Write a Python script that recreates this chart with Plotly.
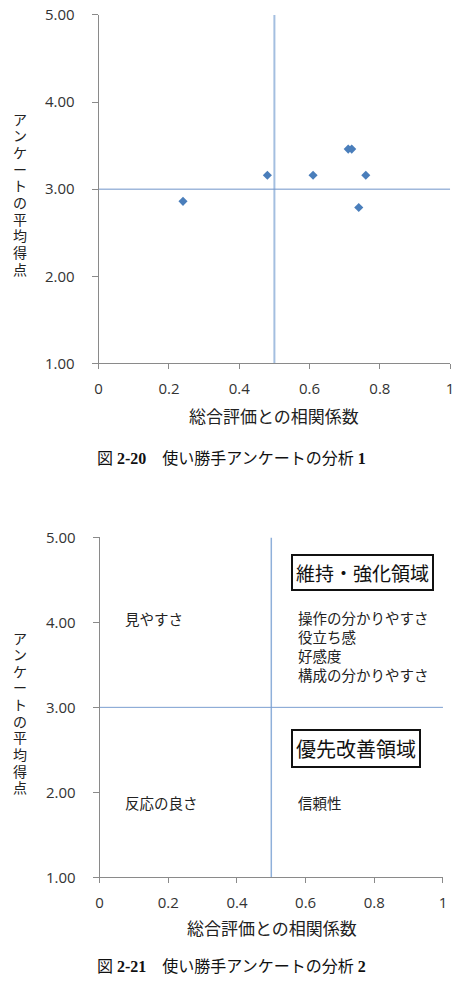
import plotly.graph_objects as go

# ---- data ----
corr = [0.24, 0.48, 0.61, 0.71, 0.72, 0.76, 0.74]
score = [2.86, 3.16, 3.16, 3.46, 3.46, 3.16, 2.79]
threshold_x = 0.5
threshold_y = 3.0
x_ticks = [0, 0.2, 0.4, 0.6, 0.8, 1]
x_tick_text = ["0", "0.2", "0.4", "0.6", "0.8", "1"]
y_ticks = [1, 2, 3, 4, 5]
y_tick_text = ["1.00", "2.00", "3.00", "4.00", "5.00"]
x_title = "総合評価との相関係数"
y_title = "アンケートの平均得点"
caption1 = "図 <b>2-20</b>　使い勝手アンケートの分析 <b>1</b>"
caption2 = "図 <b>2-21</b>　使い勝手アンケートの分析 <b>2</b>"
zone_keep = "維持・強化領域"
zone_improve = "優先改善領域"
q_upper_left = ["見やすさ"]
q_upper_right = ["操作の分かりやすさ", "役立ち感", "好感度", "構成の分かりやすさ"]
q_lower_left = ["反応の良さ"]
q_lower_right = ["信頼性"]

W, H = 463, 984
def px_x(p):
    return p / W
def px_y(p):
    return (H - p) / H

tick_font = dict(family="Open Sans, Noto Sans CJK JP", size=15, color="#333333")
jp = "Noto Sans CJK JP"
axis_gray = "#8a8a8a"

fig = go.Figure()
fig.add_trace(go.Scatter(
    x=corr, y=score, mode="markers", xaxis="x", yaxis="y",
    marker=dict(symbol="diamond", size=7, color="#4a7ebb", line=dict(width=0)),
    showlegend=False, hoverinfo="skip"))
fig.add_trace(go.Scatter(x=[None], y=[None], xaxis="x2", yaxis="y2",
                         mode="markers", showlegend=False))

def xaxis(domain, anchor):
    return dict(domain=domain, anchor=anchor, range=[0, 1], tickvals=x_ticks,
                ticktext=x_tick_text, showgrid=False, zeroline=False,
                showline=True, linecolor=axis_gray, linewidth=1,
                ticks="outside", ticklen=5, tickcolor=axis_gray,
                tickfont=tick_font, ticklabelstandoff=7, fixedrange=True)

def yaxis(domain, anchor):
    return dict(domain=domain, anchor=anchor, range=[1, 5], tickvals=y_ticks,
                ticktext=y_tick_text, showgrid=False, zeroline=False,
                showline=True, linecolor=axis_gray, linewidth=1,
                ticks="outside", ticklen=6, tickcolor=axis_gray,
                tickfont=tick_font, ticklabelstandoff=14, fixedrange=True)

fig.update_layout(
    width=W, height=H, autosize=False,
    margin=dict(l=0, r=0, t=0, b=0),
    paper_bgcolor="white", plot_bgcolor="white",
    xaxis=xaxis([px_x(96.3), px_x(454)], "y"),
    yaxis=yaxis([px_y(359.7), px_y(4)], "x"),
    xaxis2=xaxis([px_x(97.3), px_x(446.7)], "y2"),
    yaxis2=yaxis([px_y(884.3), px_y(537.3)], "x2"),
)

for xr, yr, vcol, hcol, vw in [("x", "y", "#a4bfe0", "#6f93c9", 2),
                               ("x2", "y2", "#8fb0da", "#7b9fd0", 1.5)]:
    fig.add_shape(type="line", xref=xr, yref=yr, x0=threshold_x, x1=threshold_x,
                  y0=1, y1=5, line=dict(color=vcol, width=vw), layer="below")
    fig.add_shape(type="line", xref=xr, yref=yr, x0=0, x1=1,
                  y0=threshold_y, y1=threshold_y, line=dict(color=hcol, width=1),
                  layer="below")

ann = []
for cx, cy in [(275, 412.7), (272.5, 936)]:
    ann.append(dict(text=x_title, xref="paper", yref="paper", x=px_x(cx), y=px_y(cy),
                    xanchor="center", yanchor="middle", showarrow=False,
                    font=dict(family=jp, size=17, color="#222")))
# vertical (upright stacked) y titles, one character per step
step = 17
for cy in [186.5, 716]:
    n = len(y_title)
    top = cy - step * (n - 1) / 2
    for i, ch in enumerate(y_title):
        ann.append(dict(text=ch, xref="paper", yref="paper",
                        x=px_x(16), y=px_y(top + i * step),
                        xanchor="center", yanchor="middle", showarrow=False,
                        borderpad=0, borderwidth=0,
                        font=dict(family=jp, size=14, color="#222")))
for txt, cy in [(caption1, 456.7), (caption2, 975)]:
    ann.append(dict(text=txt, xref="paper", yref="paper", x=0.5, y=px_y(cy),
                    xanchor="center", yanchor="middle", showarrow=False,
                    font=dict(family="Liberation Serif, Noto Sans CJK JP", size=16,
                              color="#111")))
lab_font = dict(family=jp, size=14.5, color="#222")
for items, lx, ly in [(q_upper_left, 0.068, 4.04), (q_upper_right, 0.572, 3.72),
                      (q_lower_left, 0.068, 1.88), (q_lower_right, 0.572, 1.88)]:
    ann.append(dict(text="<br>".join(items), xref="x2", yref="y2", x=lx, y=ly,
                    xanchor="left", yanchor="middle", align="left",
                    showarrow=False, font=lab_font))
for txt, ly, fs in [(zone_keep, 4.59, 19), (zone_improve, 2.51, 20)]:
    ann.append(dict(text=txt, xref="x2", yref="y2", x=0.557, y=ly,
                    xanchor="left", yanchor="middle", showarrow=False,
                    font=dict(family=jp, size=fs, color="#111"),
                    bordercolor="#111", borderwidth=2, borderpad=3,
                    bgcolor="white"))
fig.update_layout(annotations=ann)

fig.write_html("out.html")
